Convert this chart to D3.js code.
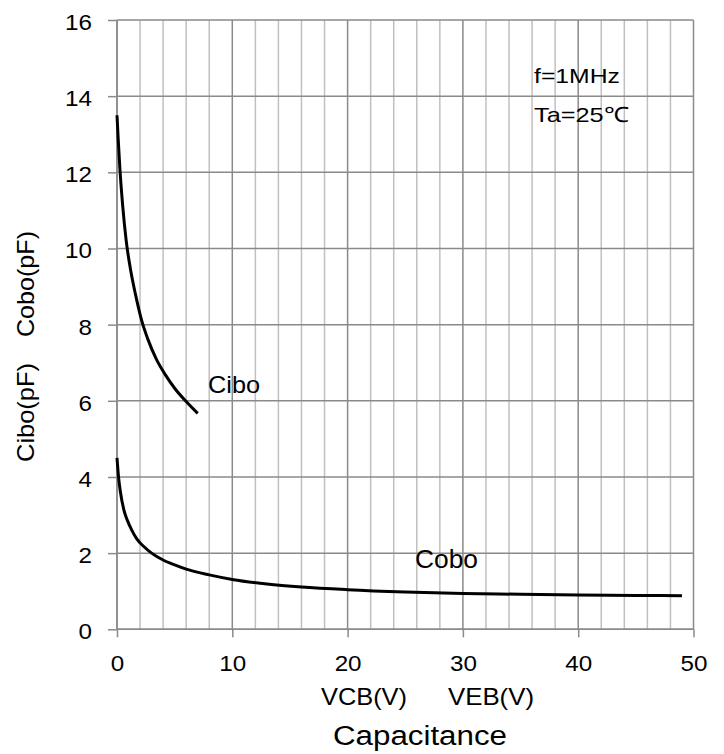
<!DOCTYPE html>
<html>
<head>
<meta charset="utf-8">
<script src="https://cdn.jsdelivr.net/npm/d3@7"></script>
<style>
  body { margin: 0; background: #fff; }
  text { font-family: "Liberation Sans", Arial, sans-serif; fill: #000; }
</style>
</head>
<body>
<div class="chart"></div>
<script>
var svgWidth = 724;
var svgHeight = 754;

// curve data
var ciboV = [0, 0.1, 0.25, 0.5, 0.8, 1.2, 1.6, 2.1, 2.7, 3.4, 4.2, 5.0, 6.0, 7.0];
var ciboC = [13.5, 12.9, 12.1, 11.1, 10.2, 9.4, 8.8, 8.15, 7.6, 7.1, 6.68, 6.33, 5.98, 5.67];
var coboV = [0, 0.15, 0.3, 0.6, 0.9, 1.27, 1.7, 2.3, 3, 4, 5, 6, 8, 10, 13, 16, 20, 25, 30, 35, 40, 45, 49];
var coboC = [4.5, 3.95, 3.6, 3.13, 2.86, 2.61, 2.38, 2.18, 2.0, 1.82, 1.69, 1.58, 1.43, 1.31, 1.19, 1.11, 1.04, 0.98, 0.94, 0.92, 0.90, 0.89, 0.88];
var xTicks = [0, 10, 20, 30, 40, 50];
var yTicks = [0, 2, 4, 6, 8, 10, 12, 14, 16];

var margin = { top: 20, left: 117 };
var width = 693.5 - margin.left;
var height = 629.3 - margin.top;

var svg = d3.select(".chart")
    .append("svg")
    .attr("width", svgWidth)
    .attr("height", svgHeight);

var chart = svg.append("g")
    .attr("transform", `translate(${margin.left},${margin.top})`);

var xScale = d3.scaleLinear().domain([0, 50]).range([0, width]);
var yScale = d3.scaleLinear().domain([0, 16]).range([height, 0]);

// minor vertical grid every 2 V
chart.append("g")
    .selectAll("line")
    .data(d3.range(2, 50, 2).filter(function (d) { return d % 10 != 0; }))
    .enter()
    .append("line")
    .attr("x1", function (d) { return xScale(d); })
    .attr("x2", function (d) { return xScale(d); })
    .attr("y1", 0)
    .attr("y2", height)
    .attr("stroke", "#c0c0c0")
    .attr("stroke-width", 1.5);

// major vertical grid
chart.append("g")
    .selectAll("line")
    .data(xTicks)
    .enter()
    .append("line")
    .attr("x1", function (d) { return xScale(d); })
    .attr("x2", function (d) { return xScale(d); })
    .attr("y1", 0)
    .attr("y2", height)
    .attr("stroke", "#8a8a8a")
    .attr("stroke-width", 1.5);

// horizontal grid
chart.append("g")
    .selectAll("line")
    .data(yTicks)
    .enter()
    .append("line")
    .attr("x1", 0)
    .attr("x2", width)
    .attr("y1", function (d) { return yScale(d); })
    .attr("y2", function (d) { return yScale(d); })
    .attr("stroke", "#8a8a8a")
    .attr("stroke-width", 1.5);

// axes
var xAxis = d3.axisBottom(xScale).tickValues(xTicks).tickSize(8);
var yAxis = d3.axisLeft(yScale).tickValues(yTicks).tickSize(9);

var gx = chart.append("g")
    .attr("transform", `translate(0,${height})`)
    .call(xAxis);
var gy = chart.append("g").call(yAxis);

[gx, gy].forEach(function (g) {
    g.select(".domain").attr("stroke", "#8a8a8a").attr("stroke-width", 1.5);
    g.selectAll(".tick line").attr("stroke", "#8a8a8a").attr("stroke-width", 1.5);
    g.selectAll(".tick text")
        .attr("font-size", "22px")
        .attr("font-family", "Liberation Sans, Arial, sans-serif")
        .attr("fill", "#000")
        .attr("x", 0)
        .attr("y", 0)
        .attr("dy", null);
});
gy.select(".domain").attr("d", `M0,${height}V0`);
gx.select(".domain").attr("d", `M0,0H${width}`);

// stretch tick labels a little sideways like the original
gx.selectAll(".tick text").attr("transform", "translate(0,42) scale(1.1,1)");
gy.selectAll(".tick text").attr("transform", "translate(-25,9.5) scale(1.1,1)");

// curves
var line = d3.line()
    .x(function (d) { return xScale(d[0]); })
    .y(function (d) { return yScale(d[1]); })
    .curve(d3.curveMonotoneX);

chart.append("path")
    .datum(d3.zip(ciboV, ciboC))
    .attr("d", line)
    .attr("fill", "none")
    .attr("stroke", "#000")
    .attr("stroke-width", 3);

chart.append("path")
    .datum(d3.zip(coboV, coboC))
    .attr("d", line)
    .attr("fill", "none")
    .attr("stroke", "#000")
    .attr("stroke-width", 3);

// labels, fitted to the width they take in the original
function label(x, y, t, size, len) {
    svg.append("text")
        .attr("x", x)
        .attr("y", y)
        .attr("font-size", size + "px")
        .attr("textLength", len)
        .attr("lengthAdjust", "spacingAndGlyphs")
        .text(t);
}
label(208, 393, "Cibo", 24, 52);
label(415, 568, "Cobo", 25, 63);
label(534, 83, "f=1MHz", 21, 86);
label(534, 122, "Ta=25\u2103", 21, 95);
label(321, 705, "VCB(V)", 24, 86);
label(448, 705, "VEB(V)", 24, 86);
label(333, 745, "Capacitance", 27, 174);

svg.append("text")
    .attr("transform", "translate(33.5,462)rotate(-90)")
    .attr("font-size", "24px")
    .attr("textLength", 99)
    .attr("lengthAdjust", "spacingAndGlyphs")
    .text("Cibo(pF)");
svg.append("text")
    .attr("transform", "translate(33.5,337)rotate(-90)")
    .attr("font-size", "24px")
    .attr("textLength", 106)
    .attr("lengthAdjust", "spacingAndGlyphs")
    .text("Cobo(pF)");
</script>
</body>
</html>
